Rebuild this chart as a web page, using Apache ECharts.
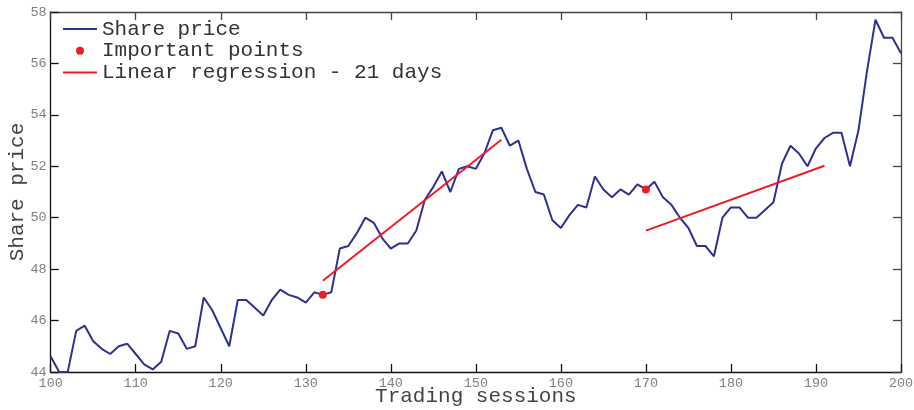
<!DOCTYPE html>
<html>
<head>
<meta charset="utf-8">
<script src="https://cdn.jsdelivr.net/npm/echarts@6/dist/echarts.min.js"></script>
<style>
  html, body { margin: 0; padding: 0; background: #fff; }
  #chart { width: 914px; height: 410px; }
</style>
</head>
<body>
<div id="chart"></div>
<script>
// Trading session numbers and closing share prices
const sessions = [
  100, 101, 102, 103, 104, 105, 106, 107, 108, 109,
  110, 111, 112, 113, 114, 115, 116, 117, 118, 119,
  120, 121, 122, 123, 124, 125, 126, 127, 128, 129,
  130, 131, 132, 133, 134, 135, 136, 137, 138, 139,
  140, 141, 142, 143, 144, 145, 146, 147, 148, 149,
  150, 151, 152, 153, 154, 155, 156, 157, 158, 159,
  160, 161, 162, 163, 164, 165, 166, 167, 168, 169,
  170, 171, 172, 173, 174, 175, 176, 177, 178, 179,
  180, 181, 182, 183, 184, 185, 186, 187, 188, 189,
  190, 191, 192, 193, 194, 195, 196, 197, 198, 199,
  200
];
const prices = [
  44.6, 44.0, 44.0, 45.6, 45.8, 45.2, 44.9, 44.7, 45.0, 45.1,
  44.7, 44.3, 44.1, 44.4, 45.6, 45.5, 44.9, 45.0, 46.9, 46.4,
  45.7, 45.0, 46.8, 46.8, 46.5, 46.2, 46.8, 47.2, 47.0, 46.9,
  46.7, 47.1, 47.0, 47.1, 48.8, 48.9, 49.4, 50.0, 49.8, 49.2,
  48.8, 49.0, 49.0, 49.5, 50.7, 51.2, 51.8, 51.0, 51.9, 52.0,
  51.9, 52.5, 53.4, 53.5, 52.8, 53.0, 51.9, 51.0, 50.9, 49.9,
  49.6, 50.1, 50.5, 50.4, 51.6, 51.1, 50.8, 51.1, 50.9, 51.3,
  51.1, 51.4, 50.8, 50.5, 50.0, 49.6, 48.9, 48.9, 48.5, 50.0,
  50.4, 50.4, 50.0, 50.0, 50.3, 50.6, 52.1, 52.8, 52.5, 52.0,
  52.7, 53.1, 53.3, 53.3, 52.0, 53.4, 55.7, 57.7, 57.0, 57.0,
  56.4
];

// Highlighted sessions
const pointSessions = [132, 170];
const pointPrices = [47.0, 51.1];

// 21-day regression segments: [start session, end session], [start price, end price]
const reg1Sessions = [132, 153];
const reg1Prices = [47.55, 53.03];
const reg2Sessions = [170, 191];
const reg2Prices = [49.5, 52.02];

// Axis ticks
const xTicks = [100, 110, 120, 130, 140, 150, 160, 170, 180, 190, 200];
const yTicks = [44, 46, 48, 50, 52, 54, 56, 58];

const FONT = '"Liberation Mono", "DejaVu Sans Mono", monospace';
const BLUE = '#2e3192';
const RED = '#ee1c25';

const zip = (xs, ys) => xs.map((x, i) => [x, ys[i]]);

const xMin = xTicks[0], xMax = xTicks[xTicks.length - 1];
const xStep = xTicks[1] - xTicks[0];
const yMin = yTicks[0], yMax = yTicks[yTicks.length - 1];
const yStep = yTicks[1] - yTicks[0];

function axisBase(lineColor) {
  return {
    axisLine: { show: true, lineStyle: { color: lineColor, width: 1.3 } },
    axisTick: { show: true, inside: true, length: 8, lineStyle: { color: lineColor, width: 1.3 } },
    splitLine: { show: false },
    minorTick: { show: false }
  };
}

const chart = echarts.init(document.getElementById('chart'), null, { renderer: 'canvas' });

chart.setOption({
  animation: false,
  backgroundColor: '#ffffff',
  grid: {
    left: 50.7, right: 13, top: 12, bottom: 38,
    containLabel: false,
    outerBoundsMode: 'none'
  },
  legend: {
    orient: 'vertical',
    left: 62,
    top: 18.5,
    padding: 0,
    itemWidth: 34,
    itemHeight: 8,
    itemGap: 0.7,
    selectedMode: false,
    textStyle: { fontFamily: FONT, fontSize: 21, lineHeight: 21, color: '#333333' },
    data: [
      // line entries: plain stroke, no marker
      { name: 'Share price', itemStyle: { opacity: 0 } },
      { name: 'Important points', itemStyle: { opacity: 1 } },
      { name: 'Linear regression - 21 days', itemStyle: { opacity: 0 } }
    ]
  },
  xAxis: [
    Object.assign(axisBase('#111111'), {
      type: 'value', position: 'bottom',
      min: xMin, max: xMax, interval: xStep,
      name: 'Trading sessions',
      nameLocation: 'middle',
      nameGap: 14,
      nameMoveOverlap: false,
      nameTextStyle: { fontFamily: FONT, fontSize: 21, color: '#444444' },
      axisLabel: { show: true, margin: 4, fontFamily: FONT, fontSize: 13.5, color: '#808080' }
    }),
    Object.assign(axisBase('#444444'), {
      type: 'value', position: 'top',
      min: xMin, max: xMax, interval: xStep,
      axisLabel: { show: false }
    })
  ],
  yAxis: [
    Object.assign(axisBase('#111111'), {
      type: 'value', position: 'left',
      min: yMin, max: yMax, interval: yStep,
      name: 'Share price',
      nameLocation: 'middle',
      nameGap: 23,
      nameRotate: 90,
      nameMoveOverlap: false,
      nameTextStyle: { fontFamily: FONT, fontSize: 21, color: '#444444' },
      axisLabel: { show: true, margin: 4, fontFamily: FONT, fontSize: 13.5, color: '#808080' }
    }),
    Object.assign(axisBase('#444444'), {
      type: 'value', position: 'right',
      min: yMin, max: yMax, interval: yStep,
      axisLabel: { show: false }
    })
  ],
  series: [
    {
      name: 'Share price',
      type: 'line',
      xAxisIndex: 0, yAxisIndex: 0,
      data: zip(sessions, prices),
      symbol: 'none',
      showSymbol: false,
      lineStyle: { color: BLUE, width: 2 },
      itemStyle: { color: BLUE },
      clip: true,
      z: 2
    },
    {
      name: 'Important points',
      type: 'scatter',
      xAxisIndex: 0, yAxisIndex: 0,
      data: zip(pointSessions, pointPrices),
      symbol: 'circle',
      symbolSize: 8,
      itemStyle: { color: RED, opacity: 1 },
      z: 4
    },
    {
      name: 'Linear regression - 21 days',
      type: 'line',
      xAxisIndex: 0, yAxisIndex: 0,
      data: zip(reg1Sessions, reg1Prices),
      symbol: 'none',
      showSymbol: false,
      lineStyle: { color: RED, width: 2 },
      itemStyle: { color: RED },
      z: 3
    },
    {
      name: 'Linear regression - 21 days',
      type: 'line',
      xAxisIndex: 0, yAxisIndex: 0,
      data: zip(reg2Sessions, reg2Prices),
      symbol: 'none',
      showSymbol: false,
      lineStyle: { color: RED, width: 2 },
      itemStyle: { color: RED },
      z: 3
    }
  ]
});
</script>
</body>
</html>
